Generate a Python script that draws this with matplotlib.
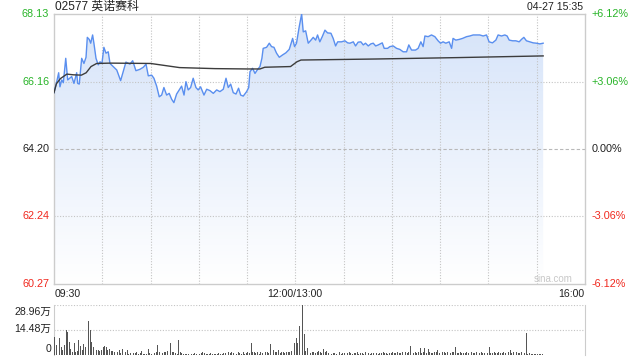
import matplotlib
matplotlib.use("Agg")
import matplotlib.pyplot as plt
from matplotlib.colors import LinearSegmentedColormap
import numpy as np

plt.rcParams['font.family'] = ['Liberation Sans', 'Noto Sans CJK SC', 'DejaVu Sans']

title = '02577 英诺赛科'
stamp = '04-27 15:35'
prev_close = 64.20
price_ticks = [60.27, 62.24, 64.20, 66.16, 68.13]
pct_labels = ['-6.12%', '-3.06%', '0.00%', '+3.06%', '+6.12%']
time_labels = ['09:30', '12:00/13:00', '16:00']
vol_ticks = [0, 14.48, 28.96]
vol_labels = ['0', '14.48万', '28.96万']

# trading minutes since 09:30 (lunch removed) and price
price_t = [0, 1.7, 2.9, 3.7, 4.8, 5.8, 7.3, 8.5, 11, 12.4, 14.1, 14.7, 15.7, 17.2, 18.6, 19.9,
           20.7, 21.9, 22.8, 24, 24.8, 26.1, 27.5, 28.6, 29.8, 31, 32.3, 33.7, 34.8, 36.8, 39,
           41.4, 43, 44.7, 47.2, 48.9, 50.9, 53.4, 55.5, 57.2, 58.6, 60.7, 62.1, 63.8, 65.4,
           66.9, 68.3, 70, 71.6, 73.1, 74.5, 76.2, 77.8, 79.3, 80.8, 82, 83.4, 84.9, 86.5, 88.2,
           89.6, 91.1, 93.2, 94.9, 96.9, 99, 101.1, 103.1, 105.2, 106.9, 108.3, 109.8, 111.4,
           113.1, 114.7, 116, 117.6, 119.7, 121, 121.8, 123.4, 124.9, 126.3, 128, 129.2, 130,
           132.1, 133.8, 135.2, 136.7, 138.3, 140, 142.1, 144.1, 146.2, 148.3, 149.5,
           150.7, 152.4, 153.9, 154.9, 156.4, 158, 159.7, 161.1, 162.6, 163.8, 165.2, 166.7,
           168.4, 170, 172.1, 173.5, 175, 176.3, 178.7, 180.8, 182.5, 183.9, 186, 187.4, 189,
           190.7, 192.2, 193.6, 195.3, 196.9, 198.4, 199.9, 201.5, 204, 205.2, 207.3, 208.7,
           210.8, 212.9, 214.9, 217, 219.1, 220.5, 222.2, 224.7, 226.3, 228, 229.4, 230.5, 232.5,
           234.6, 236.7, 238.7, 240.2, 241.8, 243.5, 245.6, 247.1, 248, 249.7, 251.8, 253.9,
           256.4, 258.4, 260.5, 262.6, 264.6, 266.7, 268.8, 270.4, 272.5, 274.6, 276, 278.1,
           280.2, 281.6, 282.9, 285, 287, 289.1, 290.5, 292, 293.6, 295.7, 297.8, 299.9, 301.9, 304]
price = [65.84, 66.16, 66.42, 66.01, 66.21, 66.13, 66.84, 66.21, 66.31, 66.11, 66.42, 66.11, 66.09,
         66.84, 66.69, 66.87, 67.45, 67.39, 67.28, 67.52, 67.28, 66.84, 66.65, 66.74, 66.69, 67.16,
         66.99, 67.03, 66.69, 66.60, 66.50, 66.19, 66.45, 66.73, 66.67, 66.77, 66.48, 66.52, 66.58,
         66.67, 66.33, 66.35, 66.26, 66.03, 65.72, 65.77, 65.99, 65.77, 65.82, 65.65, 65.55, 65.80,
         65.92, 66.03, 65.77, 66.16, 65.92, 65.99, 66.26, 65.99, 65.92, 66.01, 65.77, 65.94, 65.90,
         65.82, 65.92, 65.87, 65.94, 66.26, 65.99, 66.09, 65.84, 65.80, 65.97, 65.77, 65.74, 65.87,
         65.99, 66.45, 66.55, 66.40, 66.50, 66.60, 66.84, 67.13, 67.16, 67.28, 67.18, 67.16, 66.99,
         66.87, 66.94, 67.00, 67.10, 67.42, 67.18,
         67.28, 67.76, 68.13, 67.61, 67.64, 67.28, 67.37, 67.45, 67.37, 67.52, 67.32, 67.47, 67.66,
         67.58, 67.57, 67.42, 67.20, 67.32, 67.32, 67.35, 67.29, 67.28, 67.32, 67.20, 67.31, 67.32,
         67.23, 67.28, 67.20, 67.26, 67.28, 67.20, 67.23, 67.29, 67.13, 67.13, 67.18, 67.20, 67.13,
         67.10, 67.03, 67.03, 67.23, 67.08, 67.08, 67.13, 67.32, 67.18, 67.49, 67.47, 67.52, 67.47,
         67.35, 67.28, 67.32, 67.28, 67.32, 67.13, 67.42, 67.37, 67.39, 67.42, 67.47, 67.49, 67.52,
         67.52, 67.52, 67.49, 67.52, 67.32, 67.29, 67.37, 67.52, 67.49, 67.52, 67.49, 67.37, 67.35,
         67.35, 67.32, 67.39, 67.45, 67.35, 67.32, 67.29, 67.28, 67.26, 67.28]

avg_t = [0, 1.5, 4, 8, 12, 17, 20, 23, 26.5, 35, 60, 78, 100, 120, 128, 131, 147, 151, 153.5, 200, 250, 304]
avg_price = [65.84, 66.10, 66.25, 66.38, 66.36, 66.35, 66.42, 66.60, 66.69, 66.70, 66.69, 66.57,
             66.54, 66.53, 66.53, 66.58, 66.60, 66.74, 66.79, 66.82, 66.86, 66.91]

# volume per minute, in 万 shares
volume = [10.6, 6.0, 13.5, 10.0, 4.8, 3.0, 5.8, 14.5, 13.5, 7.7,
          3.5, 2.0, 6.8, 1.9, 2.5, 8.7, 5.4, 2.9, 6.4, 4.8,
          3.0, 19.7, 14.5, 7.7, 4.8, 3.5, 2.9, 2.9, 2.5, 3.0,
          4.8, 5.4, 4.8, 2.9, 3.3, 2.5, 2.3, 1.8, 2.9, 1.5,
          2.9, 1.2, 3.5, 1.5, 1.9, 2.9, 0.8, 1.0, 1.5, 1.0,
          1.2, 1.9, 0.8, 1.0, 2.3, 0.8, 0.6, 0.8, 3.5, 1.0,
          0.7, 0.8, 1.0, 1.5, 5.8, 1.5, 1.0, 1.0, 1.5, 1.9,
          2.3, 1.0, 6.8, 1.5, 1.5, 1.0, 0.8, 8.7, 1.5, 1.0,
          0.8, 0.7, 0.6, 0.8, 1.0, 0.6, 0.8, 1.0, 0.7, 1.2,
          0.8, 1.0, 1.5, 1.0, 0.8, 0.6, 0.8, 1.2, 0.8, 0.6,
          0.7, 0.8, 1.0, 0.6, 0.8, 1.2, 1.0, 3.5, 1.5, 1.0,
          1.9, 1.0, 1.5, 0.8, 1.9, 1.0, 0.8, 1.5, 0.8, 1.0,
          1.5, 1.0, 6.8, 1.5, 1.9, 1.0, 1.5, 0.8, 1.9, 1.0,
          24.2, 1.5, 1.9, 1.0, 6.2, 1.5, 2.9, 1.9, 1.5, 2.9,
          1.0, 1.5, 1.9, 1.0, 1.5, 1.9, 1.5, 2.3, 3.0, 6.8,
          9.7, 7.0, 16.8, 4.0, 28.96, 12.2, 2.5, 4.2, 1.5, 1.2,
          1.5, 1.9, 1.2, 1.5, 2.3, 1.5, 1.0, 3.5, 1.5, 2.3,
          1.0, 1.2, 0.8, 1.0, 1.2, 0.8, 1.0, 1.5, 0.8, 1.0,
          1.2, 0.8, 1.0, 1.5, 1.2, 0.8, 1.0, 1.2, 1.5, 0.8,
          1.0, 1.2, 0.8, 1.5, 1.0, 1.2, 0.8, 1.0, 1.2, 1.5,
          1.0, 0.8, 1.2, 1.0, 1.5, 1.2, 1.0, 0.8, 1.2, 1.0,
          1.5, 1.2, 1.0, 1.9, 1.2, 1.0, 1.5, 1.2, 1.9, 1.0,
          1.5, 5.4, 1.5, 1.0, 1.9, 1.2, 1.5, 4.2, 1.0, 1.5,
          3.9, 1.2, 3.5, 1.5, 1.0, 1.2, 1.9, 1.5, 2.9, 1.2,
          2.9, 1.5, 1.9, 1.0, 1.5, 3.5, 1.2, 1.9, 1.5, 4.8,
          1.2, 1.0, 1.5, 1.2, 1.0, 1.2, 1.5, 1.0, 1.2, 1.5,
          1.0, 1.2, 1.5, 1.0, 1.2, 1.5, 1.0, 1.2, 1.5, 1.0,
          4.8, 1.2, 1.0, 1.5, 1.2, 1.0, 1.9, 1.2, 1.0, 1.5,
          1.2, 1.0, 1.5, 2.9, 1.0, 1.9, 1.2, 1.5, 1.0, 1.2,
          1.5, 1.0, 1.2, 12.9, 0.6, 1.0, 0.8, 0.6, 0.8, 0.6,
          0.8, 0.6, 0.6, 0.5, 0.6]

green = '#28b428'
red = '#f0281e'
dark = '#222222'
border = '#cccccc'
grid_c = '#c4c4c4'

W, H = 640, 360


def px(x, y):
    # pixel position (from top-left) -> figure fraction
    return x / W, 1 - y / H


fig = plt.figure(figsize=(6.4, 3.6), dpi=100)
ax = fig.add_axes([54 / W, 1 - 284 / H, 531 / W, 270 / H])
vax = fig.add_axes([54 / W, 1 - 355 / H, 531 / W, 50 / H])

ymin, ymax = price_ticks[0], price_ticks[-1]
ax.set_xlim(0, 330)
ax.set_ylim(ymin, ymax)

# gradient fill under the price line
poly = ax.fill_between(price_t, price, ymin, facecolor='none', edgecolor='none')
cmap = LinearSegmentedColormap.from_list('fade', ['#ffffff', '#d5e3f9'])
grad = np.linspace(0, 1, 256).reshape(-1, 1)
im = ax.imshow(grad, extent=[0, 330, ymin, ymax], origin='lower', aspect='auto', cmap=cmap, zorder=1)
im.set_clip_path(poly.get_paths()[0], transform=ax.transData)

ax.plot(price_t, price, color='#5a8fef', lw=1.0, zorder=4)
ax.plot(avg_t, avg_price, color='#3c3c3c', lw=1.0, zorder=5)

for m in range(30, 330, 30):
    ax.axvline(m, color=grid_c, lw=0.8, ls=(0, (1, 1.5)), zorder=2)
for p in price_ticks[1:-1]:
    ax.axhline(p, color='#b8b8b8' if p == prev_close else grid_c, lw=0.8,
               ls=(0, (3, 2)) if p == prev_close else (0, (1, 1.5)), zorder=2)

ax.set_xticks([])
ax.set_yticks([])
for s in ax.spines.values():
    s.set_color(border)
    s.set_linewidth(1)

for p, lab in zip(price_ticks, pct_labels):
    c = green if p > prev_close else (red if p < prev_close else dark)
    ax.text(-3, p, f'{p:.2f}', ha='right', va='center', fontsize=7.8, color=c, clip_on=False)
    ax.text(334, p, lab, ha='left', va='center', fontsize=7.8, color=c, clip_on=False)

fig.text(*px(55, 7), title, ha='left', va='center', fontsize=8.6, color=dark)
fig.text(*px(583, 7), stamp, ha='right', va='center', fontsize=7.6, color=dark)
fig.text(*px(55, 294), time_labels[0], ha='left', va='center', fontsize=7.6, color=dark)
fig.text(*px(295, 294), time_labels[1], ha='center', va='center', fontsize=7.6, color=dark)
fig.text(*px(584, 294), time_labels[2], ha='right', va='center', fontsize=7.6, color=dark)
fig.text(*px(573, 279), 'sina.com', ha='right', va='center', fontsize=7, color='#c8c8c8')

# volume panel
vax.set_xlim(0, 330)
vax.set_ylim(0, vol_ticks[-1])
vax.bar(np.arange(len(volume)) + 0.5, volume, width=0.55, color='#555555', zorder=3)
for v in vol_ticks[1:]:
    vax.axhline(v, color=grid_c, lw=0.8, ls=(0, (1, 1.5)), zorder=1)
vax.set_xticks([])
vax.set_yticks([])
for side, s in vax.spines.items():
    s.set_visible(side in ('left', 'right'))
    s.set_color(border)
for ypix, lab in zip([349, 329, 312], vol_labels):
    fig.text(*px(51, ypix), lab, ha='right', va='center', fontsize=7.6, color=dark)

fig.savefig('out.png', dpi=100)
